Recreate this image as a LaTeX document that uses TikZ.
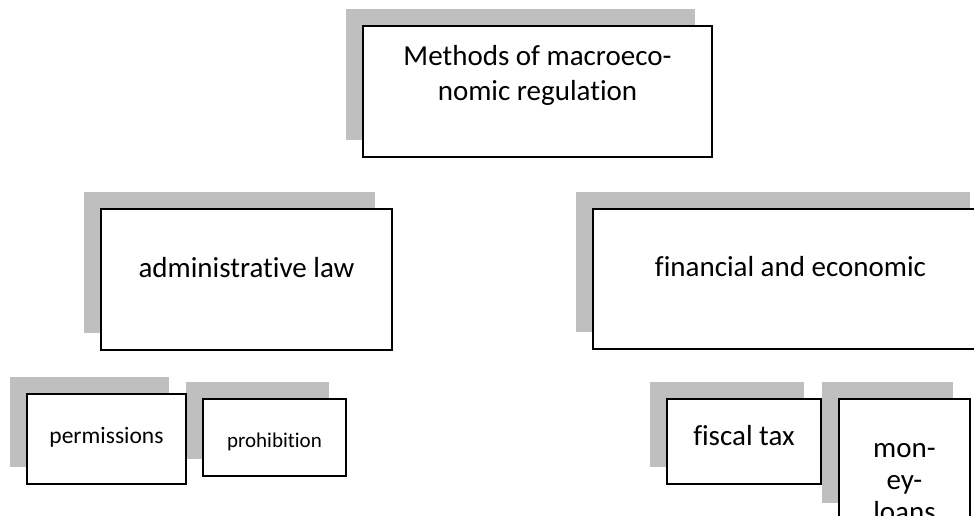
\documentclass[tikz,border=0pt]{standalone}
\usepackage{fontspec}
\setmainfont{Carlito}[Ligatures=NoCommon]
\usetikzlibrary{shadows}
\definecolor{shadowgray}{RGB}{191,191,191}
\tikzset{
  box/.style={draw, line width=2pt, fill=white, inner sep=0pt,
    general shadow={fill=shadowgray, shadow xshift=-17pt, shadow yshift=17pt}},
  big/.style={font=\fontsize{29}{35}\selectfont, align=center, inner sep=0pt}
}
\begin{document}
\begin{tikzpicture}[x=1pt,y=1pt]
            \useasboundingbox (0,0) rectangle (974,-515);
            \clip (0,0) rectangle (974,-515);
            \node[box, minimum width=349, minimum height=131] (methods) at (537.5,-91.5) {};
            \node[box, minimum width=291, minimum height=141] (admin) at (246.5,-279.5) {};
            \node[box, minimum width=394, minimum height=140] (fin) at (790,-279) {};
            \node[box, minimum width=143, minimum height=77] (prohib) at (274.5,-437.5) {};
            \node[box, minimum width=159, minimum height=90] (perm) at (106.5,-439) {};
            \node[box, minimum width=131, minimum height=121] (money) at (904.5,-459.5) {};
            \node[box, minimum width=154, minimum height=85] (fiscal) at (744,-441.5) {};
            \node[big] (methods text) at (537.5,-75) {Methods of macroeco-\\nomic regulation};
            \node[big, anchor=base] (admin text) at (246.5,-277) {administrative law};
            \node[big, anchor=base] (fin text) at (790.5,-276) {financial and economic};
            \node[anchor=base, inner sep=0pt, font=\fontsize{23.5}{28}\selectfont] (perm text) at (106.5,-443) {permissions};
            \node[anchor=base, inner sep=0pt, font=\fontsize{21}{25}\selectfont] (prohib text) at (274.5,-447) {prohibition};
            \node[big, anchor=base] (fiscal text) at (744,-445) {fiscal tax};
            \node[big, font=\fontsize{29}{32}\selectfont] (money text) at (904.5,-482.5) {mon-\\ey-\\loans};
        \end{tikzpicture}
\end{document}
